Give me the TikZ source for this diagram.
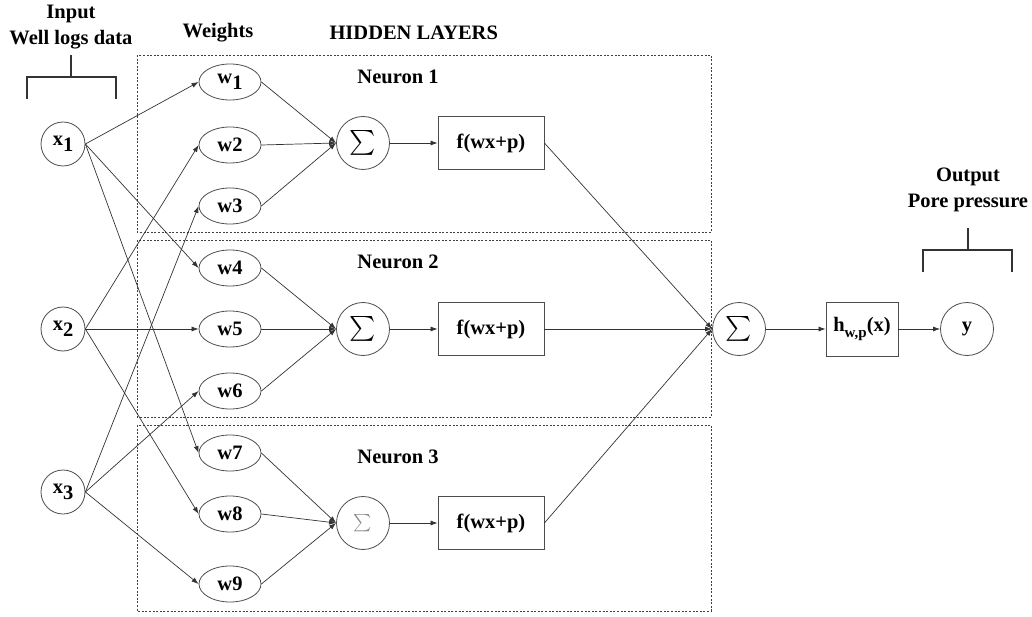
\documentclass[tikz,border=0pt]{standalone}
\usepackage{amsmath}
\usepackage{fontspec}
\setmainfont{Liberation Serif}
\usetikzlibrary{arrows.meta,shapes.geometric}

\tikzset{
  inp/.style={circle,draw=black!70,line width=0.8pt,minimum size=44pt,inner sep=0pt},
  wgt/.style={ellipse,draw=black!70,line width=0.8pt,minimum width=62pt,minimum height=36pt,inner sep=0pt},
  sumnode/.style={circle,draw=black!70,line width=0.8pt,minimum size=53pt,inner sep=0pt},
  actbox/.style={rectangle,draw=black!70,line width=0.8pt,minimum width=106pt,minimum height=53pt,inner sep=0pt},
  con/.style={draw=black!80,line width=0.7pt,-{Latex[length=7pt,width=5pt]}},
  layerbox/.style={draw=black!75,line width=0.8pt,dash pattern=on 2pt off 1.6pt},
  bracket/.style={draw=black!80,line width=1.8pt},
  lbl/.style={align=center}
}
\newcommand{\lowsub}[1]{\raisebox{-0.28em}{#1}}
\newcommand{\bigsum}{{\fontsize{29}{29}\selectfont$\textstyle\sum$}}

\begin{document}
\begin{tikzpicture}[x=1pt,y=-1pt,font=\fontsize{20.5}{26}\selectfont\bfseries]
\useasboundingbox (0,0) rectangle (1032,617);

% hidden layer boxes
\draw[layerbox] (137,55) rectangle (711,232);
\draw[layerbox] (137,240) rectangle (711,417);
\draw[layerbox] (137,425) rectangle (711,611);

% labels
\node[lbl] (inlbl) at (71,27) {Input\\Well logs data};
\node[lbl] (wlbl) at (218,33) {Weights};
\node[lbl,anchor=west] (hlbl) at (326,33) {HIDDEN LAYERS};
\node[lbl] (n1lbl) at (398,77) {Neuron 1};
\node[lbl] (n2lbl) at (398,262) {Neuron 2};
\node[lbl] (n3lbl) at (398,457) {Neuron 3};
\node[lbl] (outlbl) at (968,190) {Output\\Pore pressure};

% brackets
\draw[bracket] (71,55) -- (71,77);
\draw[bracket] (27,99) -- (27,77) -- (116,77) -- (116,99);
\draw[bracket] (968,228) -- (968,250);
\draw[bracket] (923,272) -- (923,250) -- (1012,250) -- (1012,272);

% inputs
\node[inp] (x1) at (63,144) {x\lowsub{1}};
\node[inp] (x2) at (63,329) {x\lowsub{2}};
\node[inp] (x3) at (63,492) {x\lowsub{3}};

% weights
\node[wgt] (w1) at (230,82) {w\lowsub{1}};
\foreach \i/\yy in {2/145,3/206,4/268,5/329,6/391,7/453,8/514,9/584}
  \node[wgt] (w\i) at (230,\yy) {w\i};

% neurons
\node[sumnode] (s1) at (363,143) {\bigsum};
\node[sumnode] (s2) at (363,329) {\bigsum};
\node[sumnode] (s3) at (363,523) {\fontsize{19}{19}\selectfont\color{black!45}$\textstyle\sum$};
\foreach \n/\yy in {1/143,2/329,3/523}
  \node[actbox] (f\n) at (491,\yy) {f(wx+p)};

% output
\node[sumnode] (s) at (739,329) {\bigsum};
\node[actbox,minimum width=72pt,minimum height=54pt] (h) at (862,329)
  {h\raisebox{-0.3em}{\fontsize{15}{15}\selectfont w,p}(x)};
\node[inp,minimum size=53pt] (y) at (967,329) {y};

% connections
\foreach \i in {1,2,3}
  \foreach \k in {0,3,6} {
    \pgfmathtruncatemacro\j{\i+\k}
    \draw[con] (x\i.east) -- (w\j.west);
  }
\foreach \j in {1,...,9} {
  \pgfmathtruncatemacro\n{int((\j-1)/3)+1}
  \draw[con] (w\j.east) -- (s\n.west);
}
\foreach \n in {1,2,3} {
  \draw[con] (s\n.east) -- (f\n.west);
  \draw[con] (f\n.east) -- (s.west);
}
\draw[con] (s.east) -- (h.west);
\draw[con] (h.east) -- (y.west);
\end{tikzpicture}
\end{document}
